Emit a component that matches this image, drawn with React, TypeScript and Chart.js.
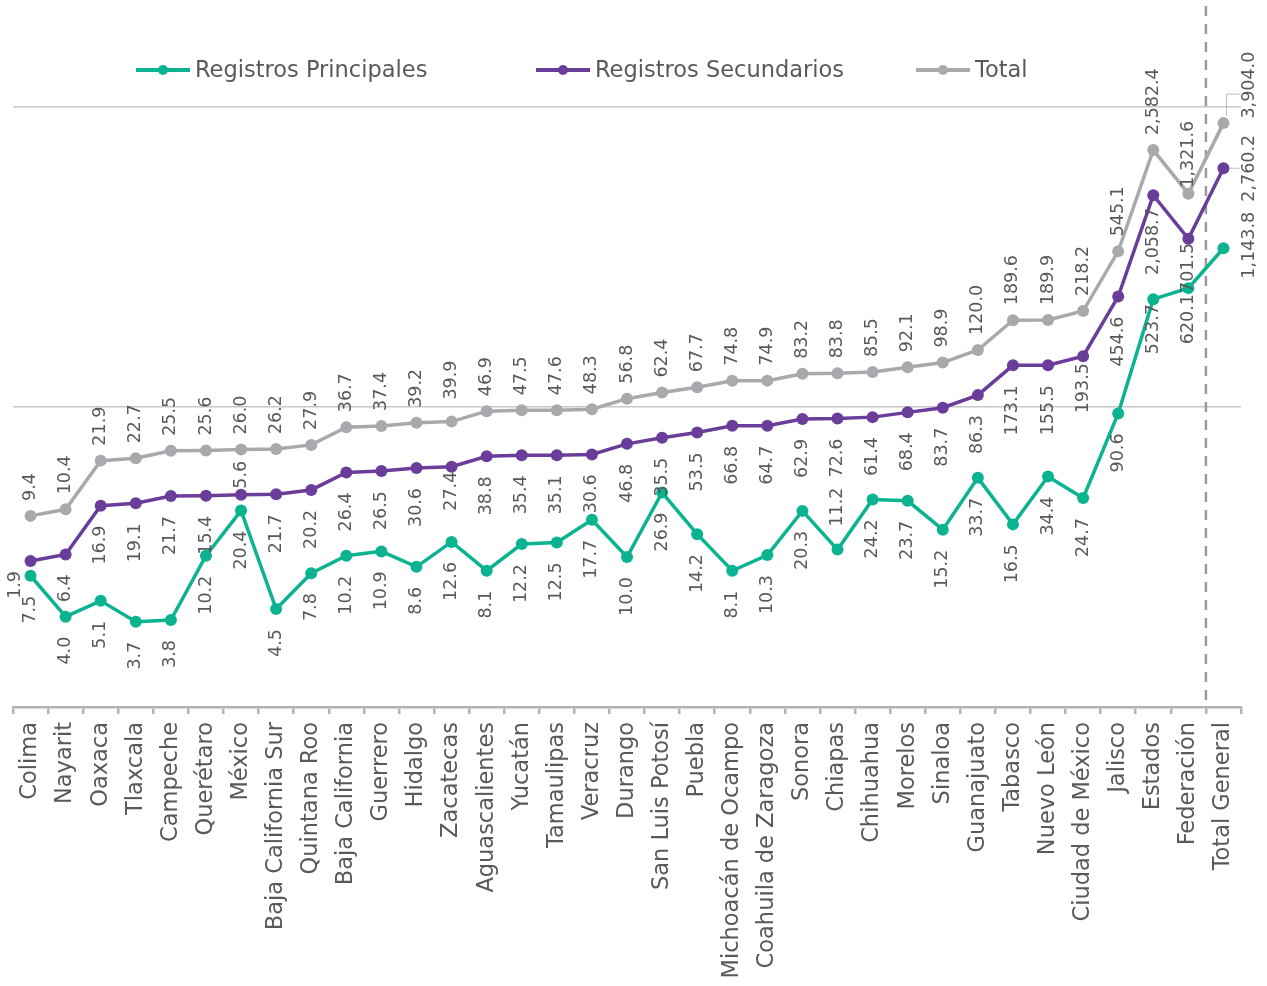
import React, { useEffect, useRef } from "react";
import { Chart, registerables } from "chart.js";

Chart.register(...registerables);

const categories = [
  "Colima", "Nayarit", "Oaxaca", "Tlaxcala", "Campeche", "Querétaro", "México",
  "Baja California Sur", "Quintana Roo", "Baja California", "Guerrero", "Hidalgo",
  "Zacatecas", "Aguascalientes", "Yucatán", "Tamaulipas", "Veracruz", "Durango",
  "San Luis Potosí", "Puebla", "Michoacán de Ocampo", "Coahuila de Zaragoza",
  "Sonora", "Chiapas", "Chihuahua", "Morelos", "Sinaloa", "Guanajuato", "Tabasco",
  "Nuevo León", "Ciudad de México", "Jalisco", "Estados", "Federación", "Total General",
];

const principales = [
  7.5, 4.0, 5.1, 3.7, 3.8, 10.2, 20.4, 4.5, 7.8, 10.2, 10.9, 8.6, 12.6, 8.1, 12.2,
  12.5, 17.7, 10.0, 26.9, 14.2, 8.1, 10.3, 20.3, 11.2, 24.2, 23.7, 15.2, 33.7, 16.5,
  34.4, 24.7, 90.6, 523.7, 620.1, 1143.8,
];

const secundarios = [
  1.9, 6.4, 16.9, 19.1, 21.7, 15.4, 5.6, 21.7, 20.2, 26.4, 26.5, 30.6, 27.4, 38.8, 35.4,
  35.1, 30.6, 46.8, 35.5, 53.5, 66.8, 64.7, 62.9, 72.6, 61.4, 68.4, 83.7, 86.3, 173.1,
  155.5, 193.5, 454.6, 2058.7, 701.5, 2760.2,
];

const totales = [
  9.4, 10.4, 21.9, 22.7, 25.5, 25.6, 26.0, 26.2, 27.9, 36.7, 37.4, 39.2, 39.9, 46.9, 47.5,
  47.6, 48.3, 56.8, 62.4, 67.7, 74.8, 74.9, 83.2, 83.8, 85.5, 92.1, 98.9, 120.0, 189.6,
  189.9, 218.2, 545.1, 2582.4, 1321.6, 3904.0,
];

const seriesNames = ["Registros Principales", "Registros Secundarios", "Total"];
const gridValues = [100, 10000];

const COLORS = ["#0bb391", "#6a3d9a", "#a8a9ad"];
const TEXT = "#595959";
const FONT = '"DejaVu Sans", sans-serif';
const WEIGHT = "400";

// label placement tweaks (style only): per dataset, per category index
const LABEL_TWEAKS: Record<number, Record<number, any>> = {
  0: {
    23: { side: "above", gap: 23 },
    32: { gap: 5 },
    33: { gap: 6 },
    34: { side: "right", dx: 26, dy: -3 },
  },
  1: {
    0: { dx: -15, gap: 10 },
    6: { side: "above", gap: 6 },
    12: { gap: 5 },
    30: { gap: 7 },
    32: { gap: 13 },
    33: { gap: 4 },
    34: { side: "right", dx: 26, dy: 0, leader: "h" },
  },
  2: {
    12: { gap: 22 },
    33: { gap: 6 },
    34: { side: "right", dx: 26, dy: -38, leader: "bent" },
  },
};

const fmt = (v: number) =>
  v.toLocaleString("en-US", { minimumFractionDigits: 1, maximumFractionDigits: 1 });

const valueLabels = {
  id: "valueLabels",
  afterDatasetsDraw(chart: any) {
    const ctx = chart.ctx;
    ctx.save();
    ctx.font = `${WEIGHT} 17.5px ${FONT}`;
    ctx.fillStyle = TEXT;
    ctx.textBaseline = "middle";
    chart.data.datasets.forEach((ds: any, di: number) => {
      const meta = chart.getDatasetMeta(di);
      meta.data.forEach((pt: any, i: number) => {
        const text = fmt(ds.data[i]);
        const o = (LABEL_TWEAKS[di] && LABEL_TWEAKS[di][i]) || {};
        const side = o.side || (di === 2 ? "above" : "below");
        const gap = o.gap ?? (di === 2 ? 15 : 20);
        let x = pt.x + (o.dx || 0);
        let y: number;
        let align: CanvasTextAlign;
        if (side === "above") {
          y = pt.y - gap;
          align = "left";
        } else if (side === "below") {
          y = pt.y + gap;
          align = "right";
        } else {
          y = pt.y + (o.dy || 0);
          align = "center";
          if (o.leader) {
            ctx.save();
            ctx.strokeStyle = "#bdbdbd";
            ctx.lineWidth = 1;
            ctx.beginPath();
            if (o.leader === "h") {
              ctx.moveTo(pt.x + 6, pt.y);
              ctx.lineTo(x - 10, pt.y);
            } else {
              ctx.moveTo(pt.x + 3, pt.y - 7);
              ctx.lineTo(pt.x + 3, y + 9);
              ctx.lineTo(x - 10, y + 9);
            }
            ctx.stroke();
            ctx.restore();
          }
        }
        ctx.save();
        ctx.translate(x, y);
        ctx.rotate(-Math.PI / 2);
        ctx.textAlign = align;
        ctx.fillText(text, 0, 0);
        ctx.restore();
      });
    });
    ctx.restore();
  },
};

const dividerLine = {
  id: "dividerLine",
  beforeDatasetsDraw(chart: any) {
    const meta = chart.getDatasetMeta(0);
    const n = meta.data.length;
    if (n < 2) return;
    const x = (meta.data[n - 2].x + meta.data[n - 1].x) / 2;
    const ctx = chart.ctx;
    ctx.save();
    ctx.strokeStyle = "#9b9b9b";
    ctx.lineWidth = 2.5;
    ctx.setLineDash([10, 8]);
    ctx.beginPath();
    ctx.moveTo(x, 6);
    ctx.lineTo(x, chart.chartArea.bottom);
    ctx.stroke();
    ctx.restore();
  },
};

const customLegend = {
  id: "customLegend",
  afterDraw(chart: any) {
    const ctx = chart.ctx;
    const starts = [136, 536, 916];
    const y = 70;
    ctx.save();
    chart.data.datasets.forEach((ds: any, i: number) => {
      const x0 = starts[i];
      ctx.strokeStyle = ds.borderColor;
      ctx.lineWidth = 4;
      ctx.beginPath();
      ctx.moveTo(x0, y);
      ctx.lineTo(x0 + 54, y);
      ctx.stroke();
      ctx.fillStyle = ds.borderColor;
      ctx.beginPath();
      ctx.arc(x0 + 27, y, 5, 0, Math.PI * 2);
      ctx.fill();
      ctx.fillStyle = TEXT;
      ctx.font = `${WEIGHT} 22.5px ${FONT}`;
      ctx.textBaseline = "middle";
      ctx.textAlign = "left";
      ctx.fillText(ds.label, x0 + 59, y + 1);
    });
    ctx.restore();
  },
};

export default function App() {
  const ref = useRef<HTMLCanvasElement>(null);
  useEffect(() => {
    if (!ref.current) return;
    const mk = (label: string, data: number[], color: string) => ({
      label,
      data,
      borderColor: color,
      backgroundColor: color,
      pointBackgroundColor: color,
      pointBorderColor: color,
      pointBorderWidth: 0,
      pointRadius: 6,
      borderWidth: 3.5,
      tension: 0,
      fill: false,
      clip: false as any,
    });
    const chart = new Chart(ref.current, {
      type: "line",
      data: {
        labels: categories,
        datasets: [
          mk(seriesNames[0], principales, COLORS[0]),
          mk(seriesNames[1], secundarios, COLORS[1]),
          mk(seriesNames[2], totales, COLORS[2]),
        ],
      },
      options: {
        responsive: false,
        animation: false,
        layout: { padding: { top: 107, left: 13, right: 26, bottom: 0 } },
        plugins: {
          legend: { display: false },
          tooltip: { enabled: false },
        },
        scales: {
          x: {
            offset: true,
            grid: {
              offset: true,
              drawOnChartArea: false,
              drawTicks: true,
              tickLength: 7,
              color: "#b3b3b3",
              lineWidth: 2.5,
            },
            border: { display: true, color: "#b3b3b3", width: 2.5 },
            ticks: {
              autoSkip: false,
              minRotation: 90,
              maxRotation: 90,
              padding: 8,
              color: TEXT,
              font: { family: FONT, size: 22.5, weight: WEIGHT as any },
            },
            afterFit: (s: any) => {
              s.height = 279;
            },
          },
          y: {
            type: "logarithmic",
            stacked: true,
            min: 1,
            max: 10000,
            grid: { drawTicks: false, color: "#c8c8c8", lineWidth: 1.5 },
            border: { display: false },
            ticks: { display: false },
            afterBuildTicks: (s: any) => {
              s.ticks = gridValues.map((v) => ({ value: v }));
            },
            afterFit: (s: any) => {
              s.width = 0;
            },
          },
        },
      },
      plugins: [dividerLine, valueLabels, customLegend],
    });
    return () => chart.destroy();
  }, []);
  return (
    <div style={{ position: "absolute", left: 0, top: 0, width: 1267, height: 986, background: "#fff" }}>
      <canvas ref={ref} width={1267} height={986} style={{ display: "block" }} />
    </div>
  );
}
